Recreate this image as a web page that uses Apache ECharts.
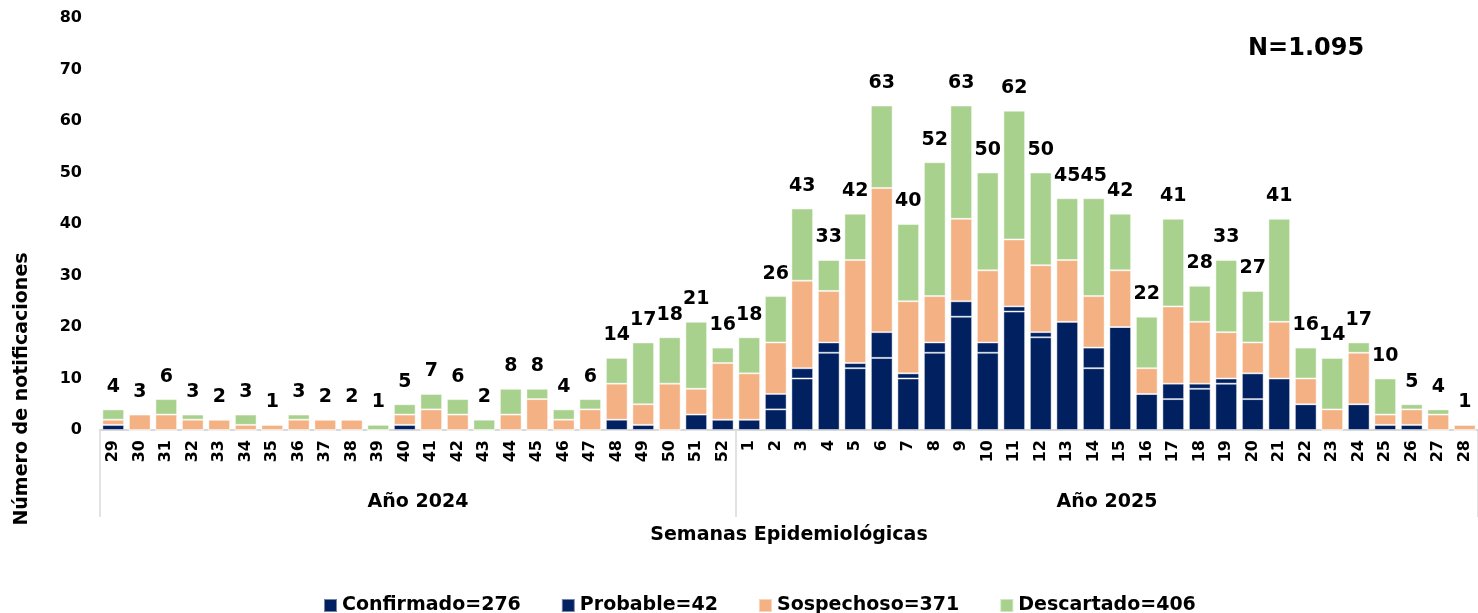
<!DOCTYPE html>
<html>
<head>
<meta charset="utf-8">
<script src="https://cdn.jsdelivr.net/npm/echarts@6/dist/echarts.min.js"></script>
<style>
  html, body { margin: 0; padding: 0; background: #fff; }
  #chart { width: 1478px; height: 613px; }
</style>
</head>
<body>
<div id="chart"></div>
<script>
// Semanas epidemiológicas
const weeks2024 = ["29","30","31","32","33","34","35","36","37","38","39","40","41","42","43","44","45","46","47","48","49","50","51","52"];
const weeks2025 = ["1","2","3","4","5","6","7","8","9","10","11","12","13","14","15","16","17","18","19","20","21","22","23","24","25","26","27","28"];
const groupLabels = ["Año 2024", "Año 2025"];

const confirmado = [1,0,0,0,0,0,0,0,0,0,0,1,0,0,0,0,0,0,0,0,1,0,0,2,
  2,4,10,15,12,14,10,15,22,15,23,18,21,12,20,7,6,8,9,6,10,5,0,5,1,1,0,0];
const probable = [0,0,0,0,0,0,0,0,0,0,0,0,0,0,0,0,0,0,0,2,0,0,3,0,
  0,3,2,2,1,5,1,2,3,2,1,1,0,4,0,0,3,1,1,5,0,0,0,0,0,0,0,0];
const sospechoso = [1,3,3,2,2,1,1,2,2,2,0,2,4,3,0,3,6,2,4,7,4,9,5,11,
  9,10,17,10,20,28,14,9,16,14,13,13,12,10,11,5,15,12,9,6,11,5,4,10,2,3,3,1];
const descartado = [2,0,3,1,0,2,0,1,0,0,1,2,3,3,2,5,2,2,2,5,12,9,13,3,
  7,9,14,6,9,16,15,26,22,19,25,18,12,19,11,10,17,7,14,10,20,6,10,2,7,1,1,0];

const weeks = weeks2024.concat(weeks2025);
const totals = weeks.map((w, i) => confirmado[i] + probable[i] + sospechoso[i] + descartado[i]);
const sum = arr => arr.reduce((a, b) => a + b, 0);
const grandTotal = sum(totals);

const FONT = "DejaVu Sans";
const chart = echarts.init(document.getElementById("chart"));

const barStyle = color => ({
  color: color,
  borderColor: "rgba(255,255,255,0.45)",
  borderWidth: 1
});

const seriesInfo = [
  { name: "Confirmado", data: confirmado, color: "#002060" },
  { name: "Probable", data: probable, color: "#022162" },
  { name: "Sospechoso", data: sospechoso, color: "#F4B183" },
  { name: "Descartado", data: descartado, color: "#A9D18E" }
];
const legendTotals = {};
seriesInfo.forEach(s => { legendTotals[s.name] = sum(s.data); });

const option = {
  animation: false,
  textStyle: { fontFamily: FONT },
  title: {
    text: "N=" + grandTotal.toLocaleString("es-PY").replace(",", "."),
    left: 1243,
    top: 32,
    textStyle: { fontFamily: FONT, fontSize: 24, fontWeight: "bold", color: "#000" }
  },
  legend: {
    data: seriesInfo.map(s => s.name),
    left: 318,
    top: 591,
    icon: "rect",
    itemWidth: 13,
    itemHeight: 13,
    itemGap: 40,
    formatter: name => name + "=" + legendTotals[name],
    textStyle: { fontFamily: FONT, fontSize: 19, fontWeight: "bold", color: "#000" }
  },
  grid: {
    left: 100,
    right: 0,
    top: 18,
    bottom: 183,
    containLabel: false
  },
  xAxis: [
    {
      type: "category",
      data: weeks,
      position: "bottom",
      name: "Semanas Epidemiológicas",
      nameLocation: "middle",
      nameGap: 96,
      nameTextStyle: { fontFamily: FONT, fontSize: 19, fontWeight: "bold", color: "#000" },
      axisLine: { lineStyle: { color: "#d9d9d9", width: 2 } },
      axisTick: { show: false },
      axisLabel: {
        rotate: 90,
        interval: 0,
        margin: 10,
        fontFamily: FONT,
        fontSize: 16,
        fontWeight: "bold",
        color: "#000"
      }
    },
    {
      type: "value",
      position: "bottom",
      min: 0,
      max: weeks.length,
      axisLine: { show: false },
      splitLine: { show: false },
      axisTick: {
        show: true,
        customValues: [0, weeks2024.length, weeks.length],
        length: 87,
        lineStyle: { color: "#d9d9d9", width: 1.5 }
      },
      axisLabel: {
        customValues: [weeks2024.length / 2, weeks2024.length + weeks2025.length / 2],
        formatter: v => (v < weeks2024.length ? groupLabels[0] : groupLabels[1]),
        margin: 63,
        fontFamily: FONT,
        fontSize: 19,
        fontWeight: "bold",
        color: "#000"
      }
    }
  ],
  yAxis: {
    type: "value",
    min: 0,
    max: 80,
    interval: 10,
    name: "Número de notificaciones",
    nameLocation: "middle",
    nameGap: 68,
    nameTextStyle: {
      fontFamily: FONT,
      fontSize: 19,
      fontWeight: "bold",
      color: "#000",
      padding: [0, 330, 0, 0]
    },
    axisLine: { show: false },
    axisTick: { show: false },
    splitLine: { show: false },
    axisLabel: {
      margin: 18,
      fontFamily: FONT,
      fontSize: 16,
      fontWeight: "bold",
      color: "#000"
    }
  },
  series: seriesInfo.map(s => ({
    name: s.name,
    type: "bar",
    stack: "total",
    barCategoryGap: "18%",
    data: s.data,
    itemStyle: barStyle(s.color)
  })).concat([
    {
      name: "Total",
      type: "scatter",
      data: totals,
      symbolSize: 0,
      silent: true,
      itemStyle: { opacity: 1 },
      label: {
        show: true,
        position: "top",
        distance: 13,
        opacity: 1,
        fontFamily: FONT,
        fontSize: 19,
        fontWeight: "bold",
        color: "#000"
      }
    }
  ])
};

chart.setOption(option);
</script>
</body>
</html>
